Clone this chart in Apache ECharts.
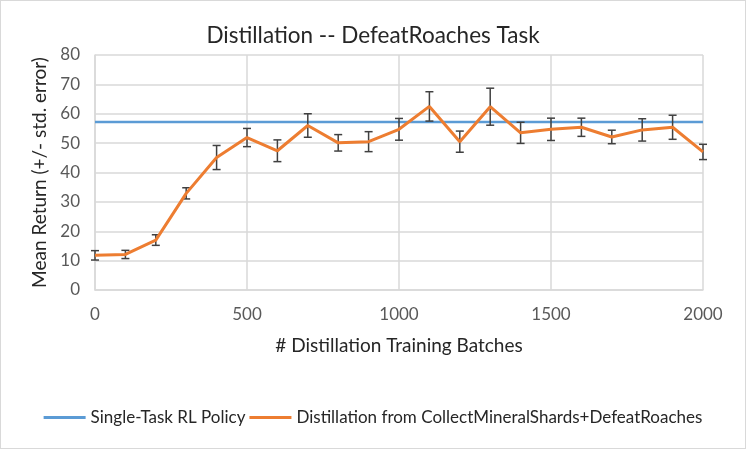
<!DOCTYPE html>
<html>
<head>
<meta charset="utf-8">
<script src="https://cdn.jsdelivr.net/npm/echarts@6/dist/echarts.min.js"></script>
<style>
  html, body { margin: 0; padding: 0; background: #fff; }
  #chart { width: 746px; height: 449px; box-sizing: border-box; border: 1px solid #d9d9d9; }
</style>
</head>
<body>
<div id="chart"></div>
<script>
// training batches
var batches = [0, 100, 200, 300, 400, 500, 600, 700, 800, 900, 1000,
    1100, 1200, 1300, 1400, 1500, 1600, 1700, 1800, 1900, 2000];
// distillation mean return
var distillMean = [11.8, 12.1, 17.0, 32.9, 45.1, 51.9, 47.4, 56.0, 50.1, 50.5, 54.7,
    62.5, 50.5, 62.4, 53.5, 54.7, 55.4, 52.1, 54.5, 55.4, 47.0];
// std. error
var distillErr = [1.6, 1.4, 1.8, 1.9, 4.1, 3.1, 3.7, 4.0, 2.8, 3.4, 3.7,
    5.0, 3.6, 6.3, 3.6, 3.8, 3.1, 2.3, 3.8, 4.1, 2.6];
// single task baseline
var singleTaskX = [0, 2000];
var singleTaskY = [57.2, 57.2];

var font = 'Lato, "Open Sans", sans-serif';

var lineData = batches.map(function (b, i) { return [b, distillMean[i]]; });
var errData = batches.map(function (b, i) {
    return [b, distillMean[i] - distillErr[i], distillMean[i] + distillErr[i]];
});
var baseData = singleTaskX.map(function (x, i) { return [x, singleTaskY[i]]; });

var myChart = echarts.init(document.getElementById('chart'));
var option = {
    animation: false,
    title: {
        text: 'Distillation -- DefeatRoaches Task',
        left: 'center',
        top: 18,
        textStyle: { fontFamily: font, fontSize: 22.5, fontWeight: 'normal', color: '#262626' }
    },
    legend: {
        bottom: 17,
        left: 'center',
        itemWidth: 42,
        itemHeight: 3,
        itemGap: 4,
        icon: 'rect',
        textStyle: { fontFamily: font, fontSize: 17, color: '#262626' },
        data: ['Single-Task RL Policy', 'Distillation from CollectMineralShards+DefeatRoaches']
    },
    grid: { left: 94, right: 42, top: 54, bottom: 158 },
    xAxis: {
        type: 'value',
        min: 0,
        max: 2000,
        interval: 500,
        name: '# Distillation Training Batches',
        nameLocation: 'middle',
        nameGap: 46,
        nameTextStyle: { fontFamily: font, fontSize: 19, color: '#262626' },
        axisLine: { lineStyle: { color: '#d9d9d9', width: 1.5 } },
        axisTick: { show: false },
        axisLabel: {
            fontFamily: font, fontSize: 17, color: '#595959', margin: 16,
            formatter: function (v) { return String(v); }
        },
        splitLine: { lineStyle: { color: '#d9d9d9', width: 1.5 } }
    },
    yAxis: {
        type: 'value',
        min: 0,
        max: 80,
        interval: 10,
        name: 'Mean Return (+/- std. error)',
        nameLocation: 'middle',
        nameGap: 43,
        nameTextStyle: { fontFamily: font, fontSize: 19, color: '#262626' },
        axisLine: { show: true, lineStyle: { color: '#d9d9d9', width: 1.5 } },
        axisTick: { show: false },
        axisLabel: { fontFamily: font, fontSize: 17, color: '#595959', margin: 15 },
        splitLine: { lineStyle: { color: '#d9d9d9', width: 1.5 } }
    },
    series: [{
        name: 'Single-Task RL Policy',
        type: 'line',
        data: baseData,
        symbol: 'none',
        lineStyle: { color: '#5b9bd5', width: 2.5 },
        itemStyle: { color: '#5b9bd5' },
        z: 2
    }, {
        name: 'errorbars',
        type: 'custom',
        data: errData,
        z: 3,
        renderItem: function (params, api) {
            var x = api.value(0);
            var lo = api.coord([x, api.value(1)]);
            var hi = api.coord([x, api.value(2)]);
            var hw = 4;
            var style = { stroke: '#404040', lineWidth: 1.5, fill: null };
            return {
                type: 'group',
                children: [
                    { type: 'line', shape: { x1: lo[0], y1: lo[1], x2: hi[0], y2: hi[1] }, style: style },
                    { type: 'line', shape: { x1: lo[0] - hw, y1: lo[1], x2: lo[0] + hw, y2: lo[1] }, style: style },
                    { type: 'line', shape: { x1: hi[0] - hw, y1: hi[1], x2: hi[0] + hw, y2: hi[1] }, style: style }
                ]
            };
        }
    }, {
        name: 'Distillation from CollectMineralShards+DefeatRoaches',
        type: 'line',
        data: lineData,
        symbol: 'none',
        lineStyle: { color: '#ed7d31', width: 3 },
        itemStyle: { color: '#ed7d31' },
        z: 4
    }]
};
myChart.setOption(option);
</script>
</body>
</html>
